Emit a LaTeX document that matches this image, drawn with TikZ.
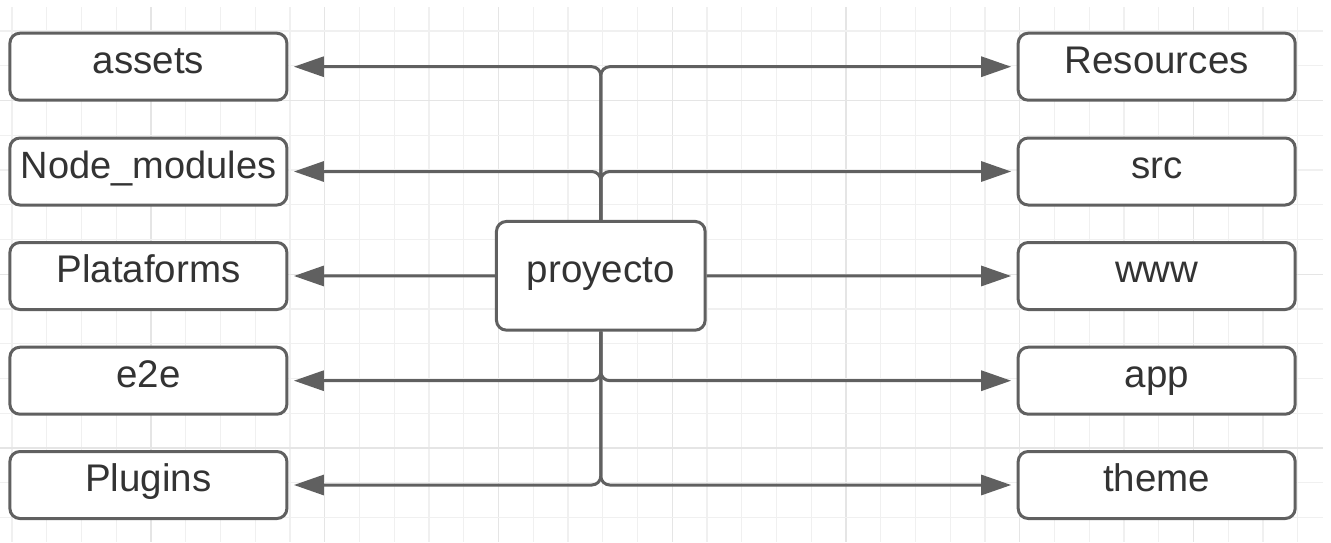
\documentclass[tikz,border=0pt]{standalone}
\usepackage{fontspec}
\setmainfont{Liberation Sans}
\usetikzlibrary{arrows.meta}
\definecolor{linegray}{HTML}{606060}
\definecolor{textgray}{HTML}{333333}
\definecolor{gridminor}{HTML}{F0F0F0}
\definecolor{gridmajor}{HTML}{E5E5E5}
\tikzset{
  boxnode/.style={draw=linegray, line width=3pt, rounded corners=10pt, fill=white,
    minimum width=277pt, minimum height=67pt, inner sep=0pt,
    text height=20pt, text depth=7pt, text=textgray,
    font=\fontsize{38.5}{46}\selectfont},
  centerbox/.style={boxnode, minimum width=208.7pt, minimum height=108.7pt},
  conn/.style={draw=linegray, line width=3pt, rounded corners=9pt,
    -{Triangle[length=30pt,width=20pt]}, shorten >=5.5pt},
}
\begin{document}
\begin{tikzpicture}[x=1pt,y=-1pt]
\useasboundingbox (0,0) rectangle (1331,542);
\fill[white] (0,0) rectangle (1331,542);
% grid
\foreach \k in {0,...,37}{
  \pgfmathtruncatemacro\m{mod(\k,5)}
  \ifnum\m=4 \def\gc{gridmajor}\else\def\gc{gridminor}\fi
  \draw[\gc, line width=1.1pt] (12+\k*34.75,7) -- (12+\k*34.75,542);
}
\foreach \k in {0,...,14}{
  \pgfmathtruncatemacro\m{mod(\k,5)}
  \ifnum\m=2 \def\gc{gridmajor}\else\def\gc{gridminor}\fi
  \draw[\gc, line width=1.1pt] (0,31+\k*34.75) -- (1323,31+\k*34.75);
}
% nodes
\node[centerbox] (p) at (600.8,275.8) {proyecto};
\node[boxnode] (assets) at (148.4,66.7) {assets};
\node[boxnode, font=\fontsize{38}{45}\selectfont] (nodemod) at (148.4,171.5) {Node\_modules};
\node[boxnode] (plat) at (148.4,276) {Plataforms};
\node[boxnode] (e2e) at (148.4,380.7) {e2e};
\node[boxnode] (plug) at (148.4,485) {Plugins};
\node[boxnode] (res) at (1156.7,66.7) {Resources};
\node[boxnode] (src) at (1156.7,171.5) {src};
\node[boxnode] (www) at (1156.7,276) {www};
\node[boxnode] (app) at (1156.7,380.7) {app};
\node[boxnode] (theme) at (1156.7,485) {theme};
% connectors
\draw[conn] (p.north) |- (assets.east);
\draw[conn] (p.north) |- (res.west);
\draw[conn] (p.north) |- (nodemod.east);
\draw[conn] (p.north) |- (src.west);
\draw[conn] (p.west) -- (plat.east);
\draw[conn] (p.east) -- (www.west);
\draw[conn] (p.south) |- (e2e.east);
\draw[conn] (p.south) |- (app.west);
\draw[conn] (p.south) |- (plug.east);
\draw[conn] (p.south) |- (theme.west);
\end{tikzpicture}
\end{document}
